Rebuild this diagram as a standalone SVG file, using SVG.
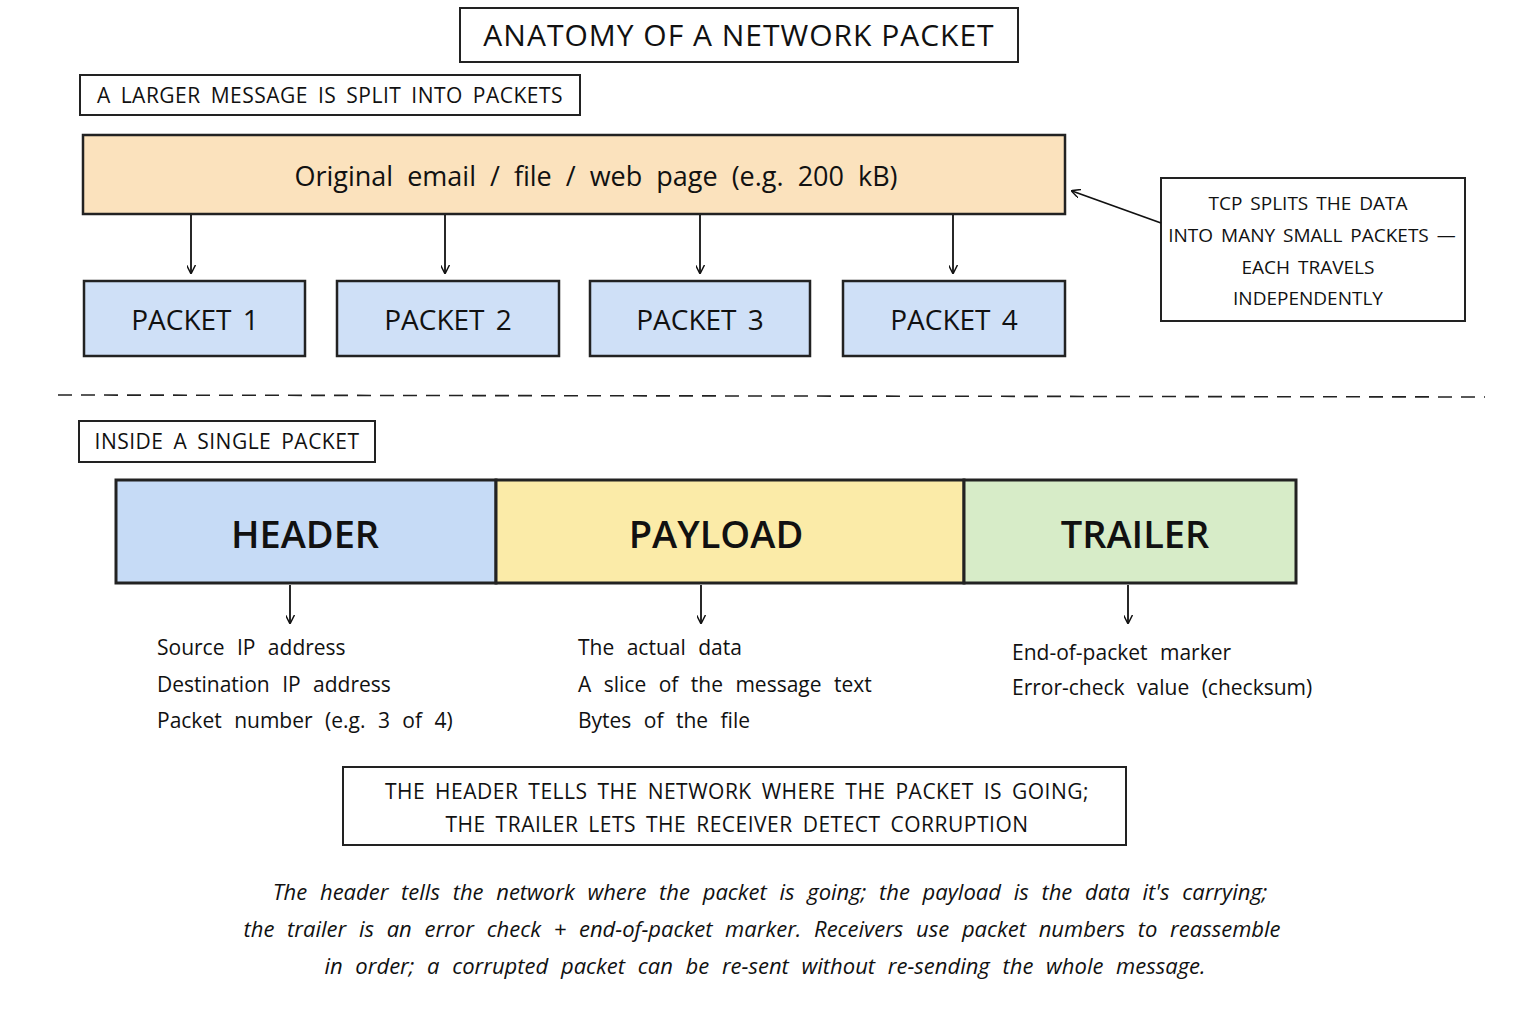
<svg xmlns="http://www.w3.org/2000/svg" width="1535" height="1025" viewBox="0 0 1535 1025">
<defs>
<marker id="ah" viewBox="0 0 10 10" refX="9" refY="5" markerWidth="9" markerHeight="9" orient="auto" markerUnits="userSpaceOnUse"><path d="M0,0 L10,5 L0,10" fill="none" stroke="#111" stroke-width="1.6"/></marker>
<style>
text{font-family:"Open Sans","Liberation Sans",sans-serif;fill:#111}
.box{fill:#fff;stroke:#222;stroke-width:2}
.lab{font-size:21px;letter-spacing:0.5px;word-spacing:4px}
.pk{font-size:28px;text-anchor:middle;word-spacing:4px}
.big{font-size:38px;text-anchor:middle;font-weight:600}
.li{font-size:21px;word-spacing:7px}
.it{font-size:22px;font-style:italic;text-anchor:middle;word-spacing:7px}
.cn{stroke:#111;stroke-width:1.8;fill:none;marker-end:url(#ah)}
</style>
</defs>
<rect width="1535" height="1025" fill="#fff"/>
<g id="title"><rect class="box" x="460" y="8" width="558" height="54"/><text x="739" y="46" font-size="30" text-anchor="middle" letter-spacing="1">ANATOMY OF A NETWORK PACKET</text></g>
<g id="lbl1"><rect class="box" x="80" y="75" width="500" height="40"/><text class="lab" x="330" y="103" text-anchor="middle">A LARGER MESSAGE IS SPLIT INTO PACKETS</text></g>
<g id="orig"><rect x="83" y="135" width="982" height="79" fill="#fbe2bd" stroke="#222" stroke-width="2.5"/><text x="596" y="186" font-size="27" text-anchor="middle" word-spacing="7">Original email / file / web page (e.g. 200 kB)</text></g>
<g id="p1"><rect x="84" y="281" width="221" height="75" fill="#cfe0f7" stroke="#222" stroke-width="2.5"/><text class="pk" x="195" y="330">PACKET 1</text></g>
<g id="p2"><rect x="337" y="281" width="222" height="75" fill="#cfe0f7" stroke="#222" stroke-width="2.5"/><text class="pk" x="448" y="330">PACKET 2</text></g>
<g id="p3"><rect x="590" y="281" width="220" height="75" fill="#cfe0f7" stroke="#222" stroke-width="2.5"/><text class="pk" x="700" y="330">PACKET 3</text></g>
<g id="p4"><rect x="843" y="281" width="222" height="75" fill="#cfe0f7" stroke="#222" stroke-width="2.5"/><text class="pk" x="954" y="330">PACKET 4</text></g>
<g id="callout"><rect class="box" x="1161" y="178" width="304" height="143"/><text font-size="19" text-anchor="middle" word-spacing="3"><tspan x="1308" y="210">TCP SPLITS THE DATA</tspan><tspan x="1312" y="242">INTO MANY SMALL PACKETS —</tspan><tspan x="1308" y="274">EACH TRAVELS</tspan><tspan x="1308" y="305">INDEPENDENTLY</tspan></text></g>
<g id="lbl2"><rect class="box" x="79" y="421" width="296" height="41"/><text class="lab" x="227" y="449" text-anchor="middle">INSIDE A SINGLE PACKET</text></g>
<g id="header"><rect x="116" y="480" width="380" height="103" fill="#c6dbf6" stroke="#222" stroke-width="3"/><text class="big" x="305" y="548">HEADER</text></g>
<g id="payload"><rect x="496" y="480" width="468" height="103" fill="#fbeba8" stroke="#222" stroke-width="3"/><text class="big" x="716" y="548">PAYLOAD</text></g>
<g id="trailer"><rect x="964" y="480" width="332" height="103" fill="#d7ecc8" stroke="#222" stroke-width="3"/><text class="big" x="1135" y="548">TRAILER</text></g>
<g id="l1"><text class="li"><tspan x="157" y="655">Source IP address</tspan><tspan x="157" y="692">Destination IP address</tspan><tspan x="157" y="728">Packet number (e.g. 3 of 4)</tspan></text></g>
<g id="l2"><text class="li"><tspan x="578" y="655">The actual data</tspan><tspan x="578" y="692">A slice of the message text</tspan><tspan x="578" y="728">Bytes of the file</tspan></text></g>
<g id="l3"><text class="li"><tspan x="1012" y="660">End-of-packet marker</tspan><tspan x="1012" y="695">Error-check value (checksum)</tspan></text></g>
<g id="summary"><rect class="box" x="343" y="767" width="783" height="78"/><text class="lab" text-anchor="middle"><tspan x="737" y="799">THE HEADER TELLS THE NETWORK WHERE THE PACKET IS GOING;</tspan><tspan x="737" y="832">THE TRAILER LETS THE RECEIVER DETECT CORRUPTION</tspan></text></g>
<g id="caption"><text class="it"><tspan x="770" y="900">The header tells the network where the packet is going; the payload is the data it's carrying;</tspan><tspan x="762" y="937">the trailer is an error check + end-of-packet marker. Receivers use packet numbers to reassemble</tspan><tspan x="765" y="974">in order; a corrupted packet can be re-sent without re-sending the whole message.</tspan></text></g>
<g id="connectors">
<line class="cn" x1="191" y1="215" x2="191" y2="273"/>
<line class="cn" x1="445" y1="215" x2="445" y2="273"/>
<line class="cn" x1="700" y1="215" x2="700" y2="273"/>
<line class="cn" x1="953" y1="215" x2="953" y2="273"/>
<line class="cn" x1="1161" y1="223" x2="1072" y2="191"/>
<line class="cn" x1="290" y1="585" x2="290" y2="623"/>
<line class="cn" x1="701" y1="585" x2="701" y2="623"/>
<line class="cn" x1="1128" y1="585" x2="1128" y2="623"/>
<line x1="58" y1="395" x2="1485" y2="397" stroke="#222" stroke-width="1.6" stroke-dasharray="14 9"/>
</g>
</svg>
